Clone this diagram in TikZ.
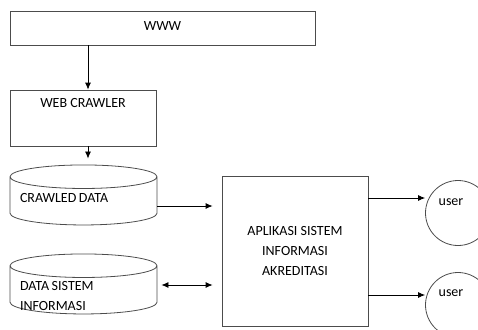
\documentclass[tikz,border=0pt]{standalone}
\usepackage{fontspec}
\setmainfont{Carlito}
\usepackage{tikz}
\usetikzlibrary{shapes.geometric, positioning, arrows.meta}

\tikzset{
    box/.style={draw=black!70, line width=0.8pt, rectangle, inner sep=0pt},
    store/.style={draw=black!70, line width=0.8pt, cylinder, shape border rotate=90, aspect=0.16,
                  inner sep=0pt, inner xsep=10pt, text width=127pt, align=flush left},
    usr/.style={draw=black!70, line width=0.8pt, circle, inner sep=0pt, minimum size=65pt},
    arr/.style={->, >={Latex[length=7pt,width=6pt]}, line width=0.8pt}
}

\begin{document}
\begin{tikzpicture}[x=1pt, y=-1pt, font=\fontsize{14}{20}\selectfont]
    \useasboundingbox (0,0) rectangle (478,329);
    % kotak atas
    \node[box, minimum width=305pt, minimum height=34pt] (www) at (162.5,28) {\raisebox{3pt}{WWW}};
    \node[box, minimum width=146pt, minimum height=56pt,
          label={[anchor=north, yshift=-5pt]north:WEB CRAWLER}] (crawler) at (83,118) {};

    % penyimpanan data
    \node[store, minimum width=147pt, minimum height=60pt] (crawled) at (83.5,204)
        {\raisebox{1.5pt}[0pt][0pt]{CRAWLED\hspace{2.5pt}DATA}};
    \node[store, minimum width=147pt, minimum height=60pt] (dsi) at (83.5,293)
        {\raisebox{2.5pt}[0pt][0pt]{\parbox[t]{127pt}{DATA\hspace{2.5pt}SISTEM\\INFORMASI}}};

    % aplikasi
    \node[box, minimum width=146pt, minimum height=150pt, align=center] (app) at (295,251)
        {APLIKASI SISTEM\\INFORMASI\\AKREDITASI};

    % pengguna
    \node[usr, label={[xshift=-7pt, yshift=11pt]center:user}] (user1) at (458,213) {};
    \node[usr, label={[xshift=-7pt, yshift=12pt]center:user}] (user2) at (458,305) {};

    % alur
    \draw[arr] ([xshift=5pt]crawler.north |- www.south) -- ([xshift=5pt]crawler.north);
    \draw[arr, shorten >=6pt] ([xshift=5pt]crawler.south) -- ([xshift=5pt]crawler.south |- crawled.north);
    \draw[arr, shorten >=9pt] ([yshift=-2pt]crawled.east) -- ([yshift=-2pt]crawled.east -| app.west);
    \draw[arr, <->, shorten <=4pt, shorten >=9pt] ([yshift=8pt]dsi.east) -- ([yshift=8pt]dsi.east -| app.west);
    \draw[arr] ([yshift=15pt]user1.west -| app.east) -- ([yshift=15pt]user1.west);
    \draw[arr] ([yshift=10pt]user2.west -| app.east) -- ([yshift=10pt]user2.west);
\end{tikzpicture}
\end{document}
